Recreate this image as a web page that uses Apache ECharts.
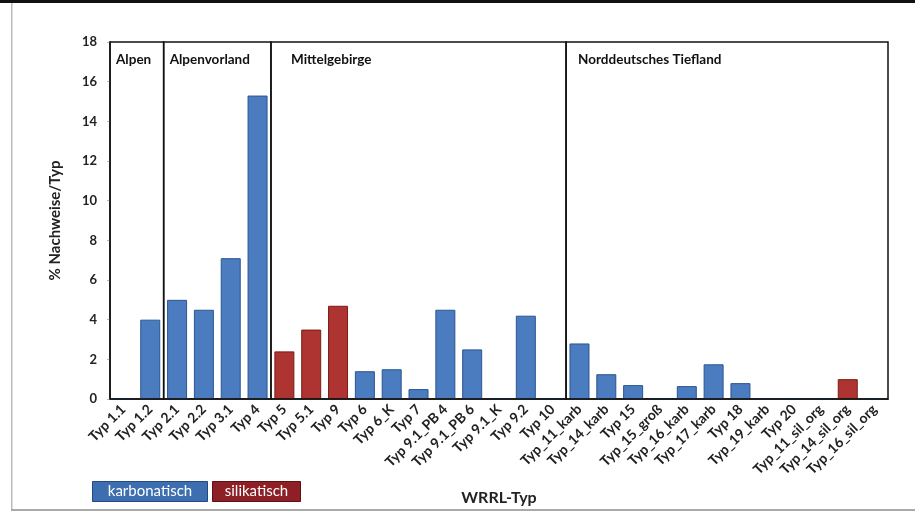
<!DOCTYPE html>
<html><head><meta charset="utf-8">
<script src="https://cdn.jsdelivr.net/npm/echarts@6/dist/echarts.min.js"></script>
<style>html,body{margin:0;padding:0;background:#fff}#c{width:915px;height:516px}</style>
</head><body><div id="c"></div>
<script>
var categories = ['Typ 1.1','Typ 1.2','Typ 2.1','Typ 2.2','Typ 3.1','Typ 4','Typ 5','Typ 5.1','Typ 9','Typ 6','Typ 6_K','Typ 7','Typ 9.1_PB 4','Typ 9.1_PB 6','Typ 9.1_K','Typ 9.2','Typ 10','Typ_11_karb','Typ_14_karb','Typ 15','Typ_15_groß','Typ_16_karb','Typ_17_karb','Typ 18','Typ_19_karb','Typ 20','Typ_11_sil_org','Typ_14_sil_org','Typ_16_sil_org'];
var karbonatisch = [0,4.0,5.0,4.5,7.1,15.3,'-','-','-',1.4,1.5,0.5,4.5,2.5,0,4.2,0,2.8,1.25,0.7,0,0.65,1.75,0.8,0,0,0,'-',0];
var silikatisch  = ['-','-','-','-','-','-',2.4,3.5,4.7,'-','-','-','-','-','-','-','-','-','-','-','-','-','-','-','-','-','-',1.0,'-'];
var regionNames = ['Alpen','Alpenvorland','Mittelgebirge','Norddeutsches Tiefland'];
var regionStart = [0,2,6,17];
var regionEnd   = [2,6,17,29];
var yTicks = [0,2,4,6,8,10,12,14,16,18];

var FONT = 'Lato, "Open Sans", sans-serif';
var chart = echarts.init(document.getElementById('c'), null, {renderer:'canvas'});
var regionData = regionNames.map(function(n,i){return [regionStart[i], regionEnd[i], n];});
chart.setOption({
  backgroundColor:'#fff',
  animation:false,
  grid:{left:110,right:27,top:42,bottom:117},
  xAxis:[{
    type:'category', data:categories,
    axisLine:{show:true,lineStyle:{color:'#111',width:1.5}},
    axisTick:{show:false},
    axisLabel:{rotate:45,interval:0,fontFamily:FONT,fontWeight:'bold',fontSize:14,color:'#222',margin:8},
    name:'WRRL-Typ', nameLocation:'middle', nameGap:91,
    nameTextStyle:{fontFamily:FONT,fontWeight:'bold',fontSize:16,color:'#222'}
  },{
    type:'value', min:0, max:29, show:false
  }],
  yAxis:{
    type:'value', min:0, max:18, interval:2,
    axisLine:{show:true,lineStyle:{color:'#111',width:1.5}},
    axisTick:{show:true,length:3,lineStyle:{color:'#bbb'}},
    splitLine:{show:false},
    axisLabel:{fontFamily:FONT,fontWeight:'bold',fontSize:13,color:'#222',margin:13,
      formatter:function(v){return yTicks.indexOf(v)>=0?String(v):'';}},
    name:'% Nachweise/Typ', nameLocation:'middle', nameGap:47, nameRotate:90,
    nameTextStyle:{fontFamily:FONT,fontWeight:'bold',fontSize:15,color:'#222'}
  },
  series:[
    {name:'karbonatisch',type:'bar',stack:'a',data:karbonatisch,barWidth:20,
     itemStyle:{color:'#4a7cbf',borderColor:'#2a5592',borderWidth:1}},
    {name:'silikatisch',type:'bar',stack:'a',data:silikatisch,barWidth:20,
     itemStyle:{color:'#ad3431',borderColor:'#7a1b1b',borderWidth:1}},
    {type:'custom', xAxisIndex:1, yAxisIndex:0, data:regionData, z:10,
     renderItem:function(params, api){
       var p0 = api.coord([api.value(0), 18]);
       var p1 = api.coord([api.value(1), 0]);
       var name = regionData[params.dataIndex][2];
       var pad = name==='Mittelgebirge'?20:(name==='Norddeutsches Tiefland'?12:6);
       return {type:'group',children:[
         {type:'rect',shape:{x:p0[0],y:p0[1],width:p1[0]-p0[0],height:p1[1]-p0[1]},
          style:{fill:'none',stroke:'#111',lineWidth:1.5}},
         {type:'text',x:p0[0]+pad,y:p0[1]+11,
          style:{text:name,fill:'#111',font:'bold 13.5px '+FONT,textVerticalAlign:'top'}}
       ]};
     }}
  ],
  graphic:[
    {type:'rect',left:0,top:0,shape:{width:915,height:3},style:{fill:'#111'}},
    {type:'rect',left:11,top:3,shape:{width:1.5,height:507},style:{fill:'#bbb'}},
    {type:'rect',left:11,top:509,shape:{width:904,height:2},style:{fill:'#aaa'}},
    {type:'group',left:92,top:481,children:[
      {type:'rect',shape:{x:0,y:0,width:115,height:20},style:{fill:'#3d6fb0',stroke:'#23497e',lineWidth:1}},
      {type:'text',x:57.5,y:10,style:{text:'karbonatisch',fill:'#fff',font:'15px '+FONT,textAlign:'center',textVerticalAlign:'middle'}}
    ]},
    {type:'group',left:212,top:481,children:[
      {type:'rect',shape:{x:0,y:0,width:88,height:20},style:{fill:'#8e1f26',stroke:'#5e1015',lineWidth:1}},
      {type:'text',x:44,y:10,style:{text:'silikatisch',fill:'#fff',font:'15px '+FONT,textAlign:'center',textVerticalAlign:'middle'}}
    ]}
  ]
});
</script></body></html>
